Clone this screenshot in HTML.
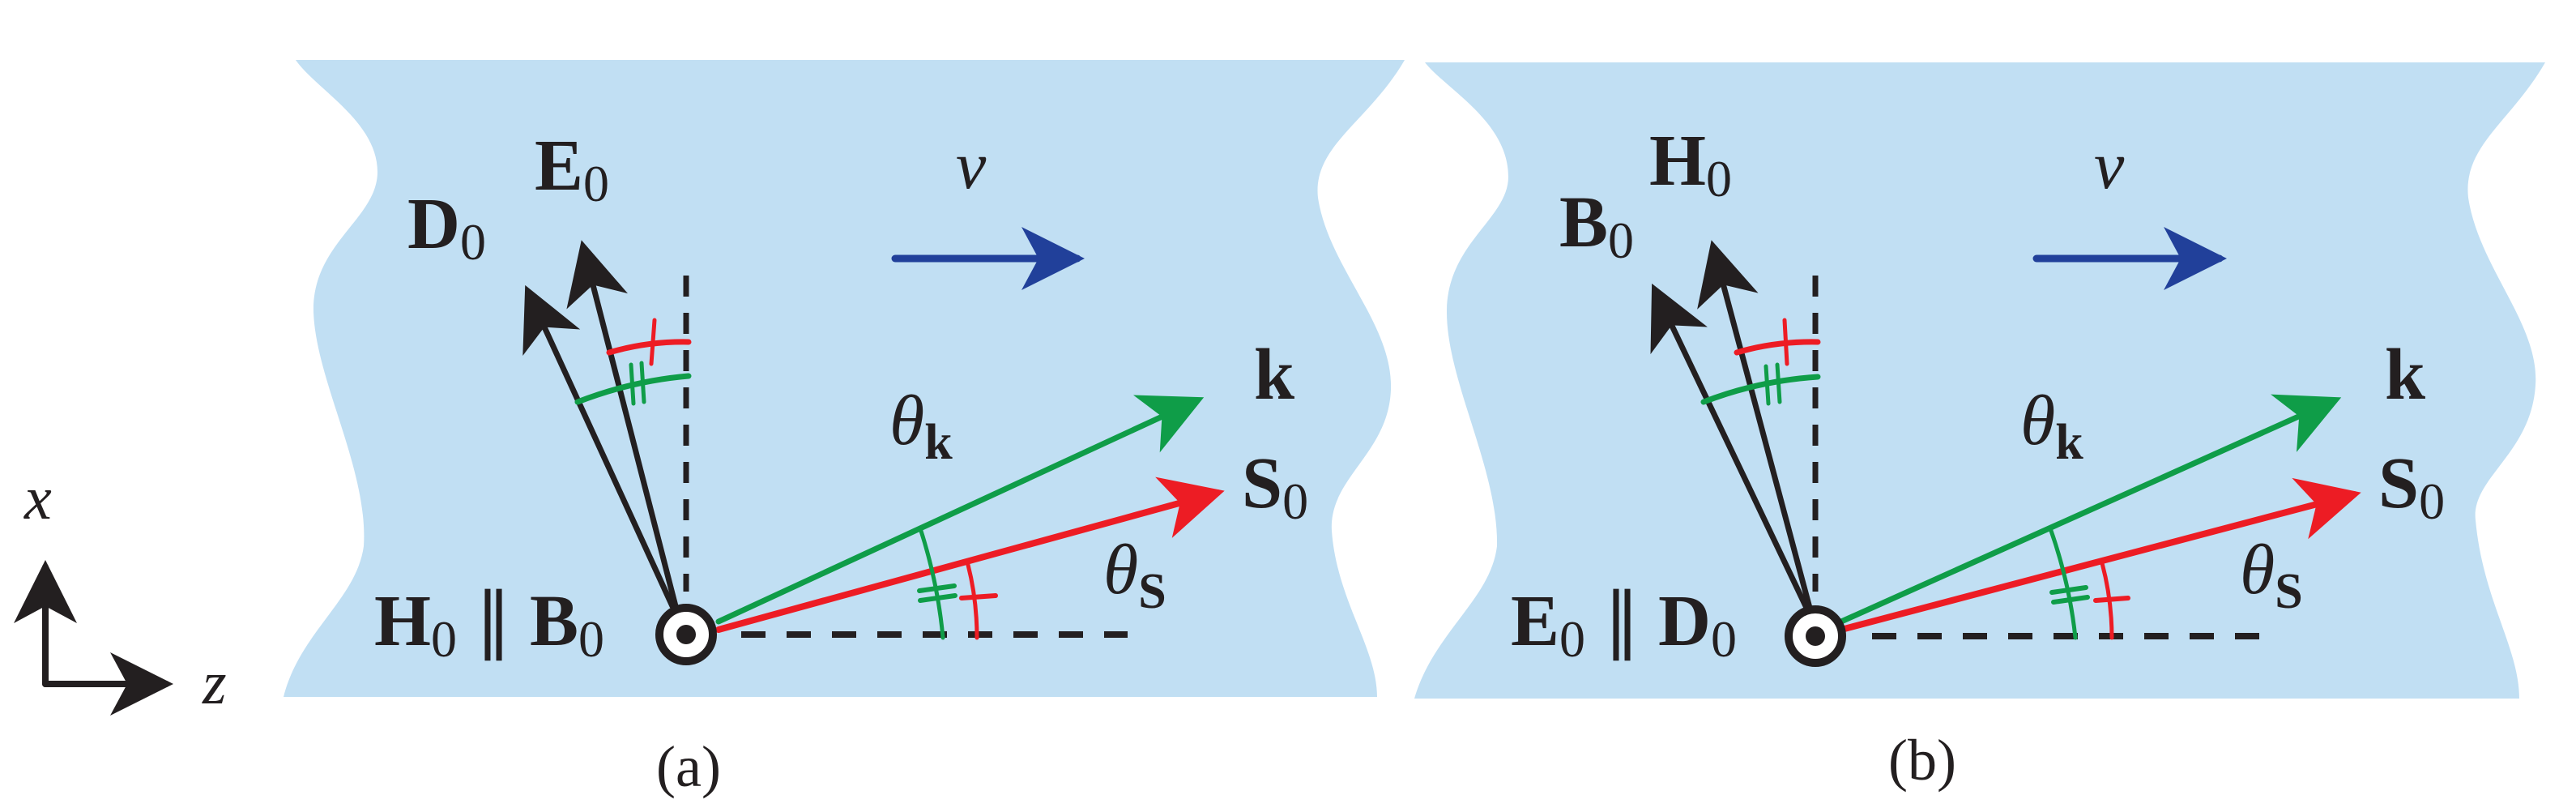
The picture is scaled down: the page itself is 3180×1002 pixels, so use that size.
<!DOCTYPE html>
<html><head><meta charset="utf-8"><style>
html,body{margin:0;padding:0;background:#fff}
svg{display:block}
text{font-family:"Liberation Serif",serif;fill:#231f20}
.b{font-weight:bold;font-size:90px}
.i{font-style:italic}
</style></head><body>
<svg width="3180" height="1002" viewBox="0 0 3180 1002" xmlns="http://www.w3.org/2000/svg">
<defs>
<marker id="ak" markerUnits="userSpaceOnUse" markerWidth="90" markerHeight="90" refX="0" refY="0" viewBox="-50 -30 60 60" orient="auto"><path d="M6,0 L-46,-26 L-32,0 L-46,26 Z" fill="#231f20"/></marker>
<marker id="ag" markerUnits="userSpaceOnUse" markerWidth="90" markerHeight="90" refX="0" refY="0" viewBox="-50 -30 60 60" orient="auto"><path d="M6,0 L-46,-26 L-32,0 L-46,26 Z" fill="#0f9d48"/></marker>
<marker id="ar" markerUnits="userSpaceOnUse" markerWidth="90" markerHeight="90" refX="0" refY="0" viewBox="-50 -30 60 60" orient="auto"><path d="M6,0 L-46,-26 L-32,0 L-46,26 Z" fill="#ed1c24"/></marker>
<marker id="ab" markerUnits="userSpaceOnUse" markerWidth="90" markerHeight="90" refX="0" refY="0" viewBox="-50 -30 60 60" orient="auto"><path d="M6,0 L-46,-26 L-32,0 L-46,26 Z" fill="#21409a"/></marker>
</defs>
<path d="M365,74 L1734,74 C1690,150 1620,180 1627,244 C1640,330 1720,400 1717,481 C1714,560 1640,590 1644,655 C1650,740 1700,800 1700,860 L350,860 C370,780 440,740 449,674 C455,580 390,470 387,385 C385,300 466,270 466,212 C466,150 390,110 365,74 Z" fill="#c1dff3"/>
<path d="M1759,77 L3142,77 C3100,150 3040,180 3047,244 C3060,330 3135,400 3130,475 C3125,560 3050,590 3056,642 C3065,740 3110,800 3110,862 L1746,862 C1770,780 1840,740 1848,674 C1850,580 1786,470 1786,385 C1786,300 1862,270 1862,218 C1862,150 1785,110 1759,77 Z" fill="#c1dff3"/>

<g fill="none" stroke-linecap="round">
<line x1="56" y1="844" x2="56" y2="700" stroke="#231f20" stroke-width="8" marker-end="url(#ak)"/>
<line x1="56" y1="844" x2="205" y2="844" stroke="#231f20" stroke-width="8" marker-end="url(#ak)"/>

<line x1="847" y1="340" x2="847" y2="730" stroke="#231f20" stroke-width="7" stroke-dasharray="26,20" stroke-linecap="butt"/>
<line x1="915" y1="783" x2="1392" y2="783" stroke="#231f20" stroke-width="8" stroke-dasharray="30,26" stroke-linecap="butt"/>
<line x1="830" y1="748" x2="652" y2="360" stroke="#231f20" stroke-width="7" marker-end="url(#ak)"/>
<line x1="834" y1="748" x2="720" y2="305" stroke="#231f20" stroke-width="7" marker-end="url(#ak)"/>
<line x1="887" y1="767" x2="1478" y2="494" stroke="#0f9d48" stroke-width="7" marker-end="url(#ag)"/>
<line x1="887" y1="777" x2="1503" y2="608" stroke="#ed1c24" stroke-width="8" marker-end="url(#ar)"/>
<line x1="1105" y1="319" x2="1330" y2="319" stroke="#21409a" stroke-width="9" marker-end="url(#ab)"/>
<path d="M752,435 Q800,421 850,422" stroke="#ed1c24" stroke-width="7"/>
<line x1="808" y1="395" x2="804" y2="449" stroke="#ed1c24" stroke-width="5"/>
<path d="M713,496 Q780,470 850,464" stroke="#0f9d48" stroke-width="7"/>
<line x1="779" y1="450" x2="782" y2="498" stroke="#0f9d48" stroke-width="5"/>
<line x1="792" y1="448" x2="795" y2="496" stroke="#0f9d48" stroke-width="5"/>
<path d="M1136,652 Q1158,720 1164,787" stroke="#0f9d48" stroke-width="5"/>
<line x1="1135" y1="729" x2="1178" y2="723" stroke="#0f9d48" stroke-width="6"/>
<line x1="1136" y1="741" x2="1179" y2="735" stroke="#0f9d48" stroke-width="6"/>
<path d="M1195,697 Q1206,740 1206,787" stroke="#ed1c24" stroke-width="5"/>
<line x1="1187" y1="738" x2="1229" y2="735" stroke="#ed1c24" stroke-width="6"/>
<circle cx="847" cy="783" r="33" fill="#fff" stroke="#231f20" stroke-width="10"/>
<circle cx="847" cy="783" r="12" fill="#231f20" stroke="none"/>

<line x1="2241" y1="340" x2="2241" y2="730" stroke="#231f20" stroke-width="7" stroke-dasharray="26,20" stroke-linecap="butt"/>
<line x1="2311" y1="785" x2="2793" y2="785" stroke="#231f20" stroke-width="8" stroke-dasharray="30,26" stroke-linecap="butt"/>
<line x1="2230" y1="750" x2="2043" y2="358" stroke="#231f20" stroke-width="7" marker-end="url(#ak)"/>
<line x1="2234" y1="750" x2="2115" y2="305" stroke="#231f20" stroke-width="7" marker-end="url(#ak)"/>
<line x1="2273" y1="767" x2="2882" y2="494" stroke="#0f9d48" stroke-width="7" marker-end="url(#ag)"/>
<line x1="2273" y1="777" x2="2906" y2="610" stroke="#ed1c24" stroke-width="8" marker-end="url(#ar)"/>
<line x1="2514" y1="319" x2="2740" y2="319" stroke="#21409a" stroke-width="9" marker-end="url(#ab)"/>
<path d="M2144,435 Q2192,421 2244,422" stroke="#ed1c24" stroke-width="7"/>
<line x1="2203" y1="395" x2="2206" y2="449" stroke="#ed1c24" stroke-width="5"/>
<path d="M2103,496 Q2170,470 2244,465" stroke="#0f9d48" stroke-width="7"/>
<line x1="2180" y1="452" x2="2183" y2="498" stroke="#0f9d48" stroke-width="5"/>
<line x1="2194" y1="450" x2="2197" y2="496" stroke="#0f9d48" stroke-width="5"/>
<path d="M2531,652 Q2555,720 2562,787" stroke="#0f9d48" stroke-width="5"/>
<line x1="2533" y1="731" x2="2575" y2="725" stroke="#0f9d48" stroke-width="6"/>
<line x1="2535" y1="743" x2="2577" y2="737" stroke="#0f9d48" stroke-width="6"/>
<path d="M2595,695 Q2607,740 2607,787" stroke="#ed1c24" stroke-width="5"/>
<line x1="2587" y1="741" x2="2627" y2="738" stroke="#ed1c24" stroke-width="6"/>
<circle cx="2241" cy="785" r="33" fill="#fff" stroke="#231f20" stroke-width="10"/>
<circle cx="2241" cy="785" r="12" fill="#231f20" stroke="none"/>
</g>

<text x="30" y="640" class="i" font-size="76">x</text>
<text x="250" y="868" class="i" font-size="76">z</text>

<text x="660" y="234" class="b">E<tspan font-weight="normal" font-size="64" dy="14">0</tspan></text>
<text x="503" y="306" class="b">D<tspan font-weight="normal" font-size="64" dy="14">0</tspan></text>
<text x="1180" y="232" class="i" font-size="84">v</text>
<text x="1548" y="492" class="b">k</text>
<text x="1098" y="548" class="i" font-size="88">θ<tspan font-weight="bold" font-style="normal" font-size="62" dy="18">k</tspan></text>
<text x="1533" y="626" class="b">S<tspan font-weight="normal" font-size="64" dy="14">0</tspan></text>
<text x="1362" y="732" class="i" font-size="88">θ<tspan font-weight="bold" font-style="normal" font-size="62" dy="18">S</tspan></text>
<text x="462" y="796" class="b">H<tspan font-weight="normal" font-size="64" dy="14">0</tspan><tspan font-weight="normal" dy="-14"> ∥ </tspan>B<tspan font-weight="normal" font-size="64" dy="14">0</tspan></text>
<text x="850" y="970" font-size="72" text-anchor="middle">(a)</text>

<text x="2036" y="228" class="b">H<tspan font-weight="normal" font-size="64" dy="14">0</tspan></text>
<text x="1925" y="304" class="b">B<tspan font-weight="normal" font-size="64" dy="14">0</tspan></text>
<text x="2585" y="232" class="i" font-size="84">v</text>
<text x="2944" y="492" class="b">k</text>
<text x="2494" y="548" class="i" font-size="88">θ<tspan font-weight="bold" font-style="normal" font-size="62" dy="18">k</tspan></text>
<text x="2936" y="626" class="b">S<tspan font-weight="normal" font-size="64" dy="14">0</tspan></text>
<text x="2765" y="732" class="i" font-size="88">θ<tspan font-weight="bold" font-style="normal" font-size="62" dy="18">S</tspan></text>
<text x="1865" y="796" class="b">E<tspan font-weight="normal" font-size="64" dy="14">0</tspan><tspan font-weight="normal" dy="-14"> ∥ </tspan>D<tspan font-weight="normal" font-size="64" dy="14">0</tspan></text>
<text x="2373" y="962" font-size="72" text-anchor="middle">(b)</text>
</svg>
</body></html>
